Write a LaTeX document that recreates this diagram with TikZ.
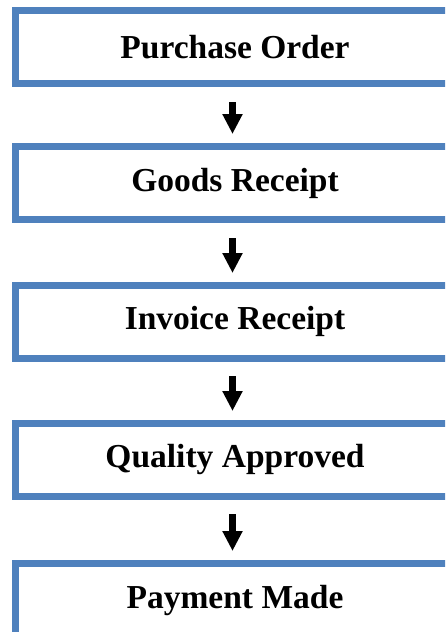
\documentclass[tikz,border=0pt]{standalone}
\usepackage{fontspec}
\setmainfont{Liberation Serif}
\usetikzlibrary{arrows.meta}
\definecolor{boxblue}{HTML}{4F81BD}
\begin{document}
\begin{tikzpicture}[x=1pt,y=-1pt,
  stagebox/.style={draw=boxblue,line width=7pt,fill=white,minimum width=446pt,minimum height=73pt,
    inner sep=0pt,outer sep=0pt,anchor=north west},
  stagetext/.style={font=\fontsize{33.5}{38}\selectfont\bfseries,inner sep=0pt},
  flowarrow/.style={line width=7pt,-{Triangle[width=19pt,length=20pt]},black}]
\useasboundingbox (0,0) rectangle (445,632);
\clip (0,0) rectangle (445,632);
\node[stagebox] (po) at (15.5,10.5) {};
\node[stagetext] (pot) at (235,47) {Purchase Order};
\node[stagebox] (gr) at (15.5,146.5) {};
\node[stagetext] (grt) at (235,183) {Goods Receipt};
\node[stagebox] (ir) at (15.5,285.5) {};
\node[stagetext] (irt) at (235,321.5) {Invoice Receipt};
\node[stagebox] (qa) at (15.5,423.5) {};
\node[stagetext] (qat) at (235,459.5) {Quality Approved};
\node[stagebox] (pm) at (15.5,563.5) {};
\node[stagetext] (pmt) at (235,600) {Payment Made};
\coordinate (a1s) at (232.5,102); \coordinate (a1e) at (232.5,134);
\coordinate (a2s) at (232.5,238); \coordinate (a2e) at (232.5,273);
\coordinate (a3s) at (232.5,376); \coordinate (a3e) at (232.5,411);
\coordinate (a4s) at (232.5,514); \coordinate (a4e) at (232.5,551);
\draw[flowarrow] (a1s) -- (a1e);
\draw[flowarrow] (a2s) -- (a2e);
\draw[flowarrow] (a3s) -- (a3e);
\draw[flowarrow] (a4s) -- (a4e);
\end{tikzpicture}
\end{document}
